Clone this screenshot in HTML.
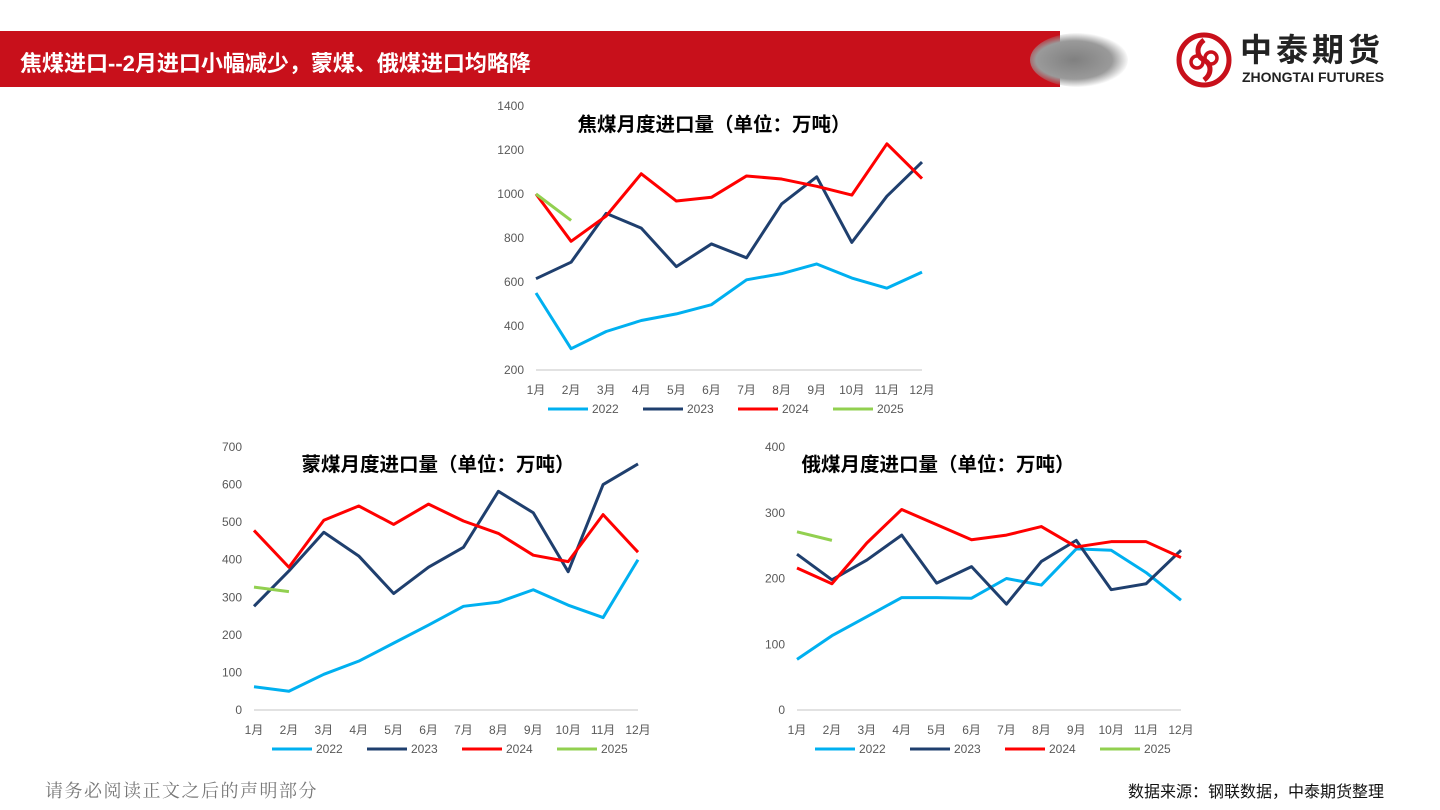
<!DOCTYPE html>
<html><head><meta charset="utf-8">
<style>
body{margin:0;width:1440px;height:810px;background:#fff;position:relative;overflow:hidden;font-family:"Liberation Sans","Noto Sans CJK SC",sans-serif;}
#hdr{position:absolute;left:0;top:31px;width:1060px;height:56px;background:#c8101b;}
#hdrshadow{position:absolute;left:1030px;top:33px;width:98px;height:54px;border-radius:50%;background:radial-gradient(ellipse at 45% 50%,#808080 0%,#9a9a9a 50%,rgba(255,255,255,0) 72%);}
#title{position:absolute;left:20px;top:46px;color:#fff;font-weight:bold;font-size:22px;}
#logo{position:absolute;left:1176px;top:32px;}
#logo-cn{position:absolute;left:1240px;top:32px;font-size:32px;line-height:36px;font-weight:bold;color:#222;letter-spacing:4px;}
#logo-en{position:absolute;left:1242px;top:69px;font-size:14px;line-height:16px;font-weight:bold;color:#222;}
#foot-l{position:absolute;left:45px;top:777px;font-size:18px;color:#777;font-family:"Liberation Serif","Noto Serif CJK SC",serif;letter-spacing:1.5px;}
#foot-r{position:absolute;left:1128px;top:778px;font-size:16px;color:#111;}
svg text{font-family:"Liberation Sans","Noto Sans CJK SC",sans-serif;}
</style></head><body>
<div id="hdr"></div>
<div id="hdrshadow"></div>
<div id="title">焦煤进口--2月进口小幅减少，蒙煤、俄煤进口均略降</div>
<svg id="logo" width="56" height="56" viewBox="0 0 56 56">
<circle cx="28" cy="28" r="25" fill="none" stroke="#c8101b" stroke-width="5"/>
<path d="M28 8 C20 14,20 24,28 28 C36 32,36 42,28 48" fill="none" stroke="#c8101b" stroke-width="5"/>
<circle cx="21" cy="30" r="6" fill="none" stroke="#c8101b" stroke-width="3.5"/>
<circle cx="35" cy="26" r="6" fill="none" stroke="#c8101b" stroke-width="3.5"/>
</svg>
<div id="logo-cn">中泰期货</div>
<div id="logo-en">ZHONGTAI FUTURES</div>
<svg id="c1" width="1440" height="810" style="position:absolute;left:0;top:0"></svg>
<div id="foot-l">请务必阅读正文之后的声明部分</div>
<div id="foot-r">数据来源：钢联数据，中泰期货整理</div>
<script>
const months=["1月","2月","3月","4月","5月","6月","7月","8月","9月","10月","11月","12月"];
const years=["2022","2023","2024","2025"];
const colors=["#00b0f0","#1f3f6e","#ff0000","#92d050"];
const cokingTicks=[200,400,600,800,1000,1200,1400];
const coking2022=[550,297,375,425,455,497,610,638,682,618,572,645];
const coking2023=[615,690,912,845,670,773,710,955,1078,780,990,1145];
const coking2024=[1000,785,900,1092,968,985,1082,1068,1035,995,1228,1070];
const coking2025=[1000,880];
const mongoTicks=[0,100,200,300,400,500,600,700];
const mongo2022=[62,50,95,130,178,226,276,287,320,279,246,400];
const mongo2023=[276,370,473,410,310,380,433,582,525,368,600,655];
const mongo2024=[478,380,505,543,494,548,503,470,412,395,520,420];
const mongo2025=[327,315];
const russiaTicks=[0,100,200,300,400];
const russia2022=[77,113,142,171,171,170,200,190,245,243,209,167];
const russia2023=[237,198,228,266,193,218,161,226,258,183,192,243];
const russia2024=[216,192,254,305,282,259,266,279,248,256,256,232];
const russia2025=[271,258];

const NS="http://www.w3.org/2000/svg";
const svg=document.getElementById('c1');
function mk(tag,attrs,parent){const e=document.createElementNS(NS,tag);for(const k in attrs)e.setAttribute(k,attrs[k]);(parent||svg).appendChild(e);return e;}
function drawChart(cfg){
  const g=mk('g',{});
  
  
  const ymin=cfg.ticks[0],ymax=cfg.ticks[cfg.ticks.length-1];
  const yS=v=>cfg.y0-(v-ymin)/(ymax-ymin)*(cfg.y0-cfg.y1);
  const xS=i=>cfg.x0+i*(cfg.x1-cfg.x0)/11;
  const bl=mk('line',{x1:cfg.x0,x2:cfg.x1,y1:cfg.y0,y2:cfg.y0,stroke:'#d9d9d9','stroke-width':1.5},g);
  
  
  cfg.ticks.forEach(t=>{const tx=mk('text',{x:cfg.x0-cfg.tickOff,y:yS(t)+4,'text-anchor':'end','font-size':12,fill:'#595959'},g);tx.textContent=t;
    
    });
  months.forEach((m,i)=>{const tx=mk('text',{x:xS(i),y:cfg.y0+24,'text-anchor':'middle','font-size':12,fill:'#595959'},g);tx.textContent=m;
    
    });
  cfg.series.forEach((s,k)=>{
    const p=mk('polyline',{points:s.map((v,i)=>xS(i)+','+yS(v)).join(' '),fill:'none',stroke:colors[k],'stroke-width':3,'stroke-linejoin':'round'},g);
    
    
  });
  const tt=mk('text',{x:cfg.tx,y:cfg.ty,'text-anchor':'middle','font-size':19.5,'font-weight':'bold',fill:'#000'},g);
  tt.textContent=cfg.title;
  
  
  years.forEach((yr,k)=>{const lx=cfg.lx+k*cfg.lstep;
    const l=mk('line',{x1:lx,x2:lx+40,y1:cfg.ly,y2:cfg.ly,stroke:colors[k],'stroke-width':3},g);
    
    
    const t=mk('text',{x:lx+44,y:cfg.ly+4,'font-size':12,fill:'#595959'},g);t.textContent=yr;
    
    });
}
drawChart({name:'coking-coal-chart',ticks:cokingTicks,series:[coking2022,coking2023,coking2024,coking2025],x0:536,x1:922,y0:370,y1:106,tickOff:12,title:'焦煤月度进口量（单位：万吨）',tx:714,ty:131,lx:548,lstep:95,ly:409});
drawChart({name:'mongolia-coal-chart',ticks:mongoTicks,series:[mongo2022,mongo2023,mongo2024,mongo2025],x0:254,x1:638,y0:710,y1:447,tickOff:12,title:'蒙煤月度进口量（单位：万吨）',tx:438,ty:471,lx:272,lstep:95,ly:749});
drawChart({name:'russia-coal-chart',ticks:russiaTicks,series:[russia2022,russia2023,russia2024,russia2025],x0:797,x1:1181,y0:710,y1:447,tickOff:12,title:'俄煤月度进口量（单位：万吨）',tx:938,ty:471,lx:815,lstep:95,ly:749});
</script>
</body></html>
